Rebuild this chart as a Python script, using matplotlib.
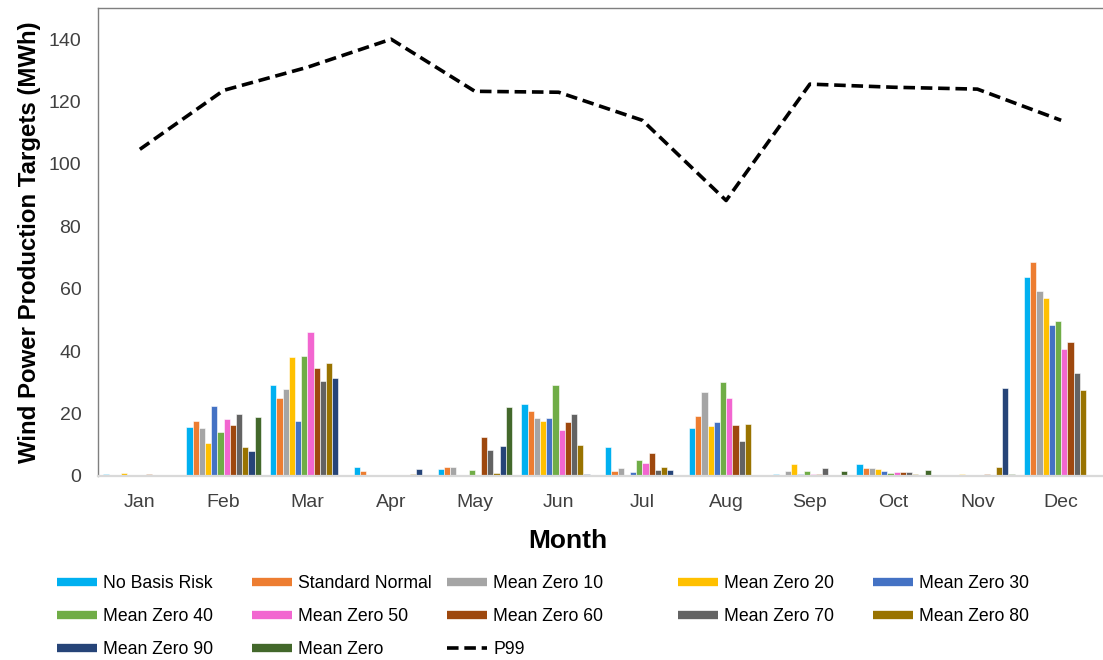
"""
Wind power production targets by month, with P99 line
"""
import matplotlib.pyplot as plt
import numpy as np
from matplotlib.lines import Line2D

# DATA
#####################
months = ['Jan', 'Feb', 'Mar', 'Apr', 'May', 'Jun', 'Jul', 'Aug', 'Sep', 'Oct', 'Nov', 'Dec']

no_basis_risk = [0.5, 15.6, 29.1, 2.9, 2.4, 23.0, 9.4, 15.4, 0.6, 3.9, 0, 63.8]
standard_normal = [0, 17.6, 24.9, 1.6, 2.9, 20.8, 1.6, 19.2, 0, 2.7, 0, 68.6]
mean_zero_10 = [0, 15.3, 27.9, 0, 2.9, 18.6, 2.5, 27.0, 1.6, 2.7, 0, 59.2]
mean_zero_20 = [1.0, 10.6, 38.1, 0, 0.4, 17.6, 0, 15.9, 3.9, 2.1, 0.7, 57.1]
mean_zero_30 = [0, 22.5, 17.6, 0, 0, 18.6, 1.3, 17.3, 0.8, 1.6, 0, 48.3]
mean_zero_40 = [0, 14.1, 38.6, 0, 1.8, 29.1, 5.1, 30.2, 1.6, 1.1, 0, 49.8]
mean_zero_50 = [0, 18.3, 46.2, 0, 0.4, 14.8, 4.1, 25.0, 0.8, 1.3, 0, 40.8]
mean_zero_60 = [0.7, 16.5, 34.7, 0, 12.6, 17.3, 7.4, 16.2, 0.8, 1.3, 0.8, 42.9]
mean_zero_70 = [0, 20.0, 30.3, 0, 8.3, 19.9, 1.9, 11.1, 2.5, 1.3, 0, 33.0]
mean_zero_80 = [0, 9.2, 36.3, 0.5, 1.0, 9.8, 2.9, 16.7, 0, 0.5, 2.9, 27.5]
mean_zero_90 = [0, 8.1, 31.5, 2.1, 9.6, 0.6, 1.9, 0, 0, 0, 28.1, 0]
mean_zero = [0, 18.8, 0, 0, 22.2, 0, 0, 0, 1.6, 1.9, 0.5, 0]

p99 = [104.7, 123.6, 131.0, 140.0, 123.3, 123.0, 114.0, 88.3, 125.6, 124.6, 124.0, 114.0]

series_names = ['No Basis Risk', 'Standard Normal', 'Mean Zero 10', 'Mean Zero 20', 'Mean Zero 30',
                'Mean Zero 40', 'Mean Zero 50', 'Mean Zero 60', 'Mean Zero 70', 'Mean Zero 80',
                'Mean Zero 90', 'Mean Zero']
series = [no_basis_risk, standard_normal, mean_zero_10, mean_zero_20, mean_zero_30, mean_zero_40,
          mean_zero_50, mean_zero_60, mean_zero_70, mean_zero_80, mean_zero_90, mean_zero]
colors = ['#00B0F0', '#ED7D31', '#A5A5A5', '#FFC000', '#4472C4', '#70AD47',
          '#F266D0', '#9E480E', '#636363', '#997300', '#264478', '#43682B']

# PLOT
#####################
plt.rcParams['font.family'] = 'Liberation Sans'

fig = plt.figure(figsize=(11.03, 6.6), dpi=100)
ax = fig.add_axes([98 / 1103, 184 / 660, 1005 / 1103, 468 / 660])

x = np.arange(len(months))
pitch = 0.074
for k, (vals, c) in enumerate(zip(series, colors)):
    ax.bar(x + (k - 5.5) * pitch, vals, width=pitch, color=c, edgecolor='white', linewidth=0.4, zorder=2)

ax.plot(x, p99, color='black', linewidth=2.6, linestyle=(0, (3.2, 1.6)), zorder=3)

ax.set_xlim(-0.5, 11.5)
ax.set_ylim(0, 150)
ax.set_yticks(np.arange(0, 141, 20))
ax.set_xticks(x)
ax.set_xticklabels(months)
ax.tick_params(axis='both', length=0, labelsize=14, colors='#404040')
ax.tick_params(axis='y', pad=12)
ax.tick_params(axis='x', pad=13)

for s in ['left', 'top']:
    ax.spines[s].set_color('#7f7f7f')
    ax.spines[s].set_linewidth(1.0)
ax.spines['bottom'].set_color('#d9d9d9')
ax.spines['bottom'].set_linewidth(1.6)
ax.spines['right'].set_visible(False)

ax.set_ylabel('Wind Power Production Targets (MWh)', fontsize=17.3, fontweight='bold')
ax.yaxis.set_label_coords(-0.057, 0.5)
ax.set_xlabel('Month', fontsize=19, fontweight='bold')
ax.xaxis.set_label_coords(0.467, -0.113)

# legend, one column at a time to get the spacing
handles = [Line2D([], [], color=c, linewidth=6, solid_capstyle='butt') for c in colors]
handles.append(Line2D([], [], color='black', linewidth=2.6, linestyle=(0, (3.2, 1.6))))
labels = series_names + ['P99']
col_x = [57, 252, 447, 678, 873]
for j in range(5):
    idx = [i for i in range(j, len(labels), 5)]
    fig.legend([handles[i] for i in idx], [labels[i] for i in idx],
               loc='upper left', bbox_to_anchor=(col_x[j] / 1103, 1 - 575 / 660),
               frameon=False, fontsize=12.7, borderpad=0, borderaxespad=0,
               handlelength=2.27, handletextpad=0.34, labelspacing=0.92)

plt.savefig('out.png', dpi=100)
